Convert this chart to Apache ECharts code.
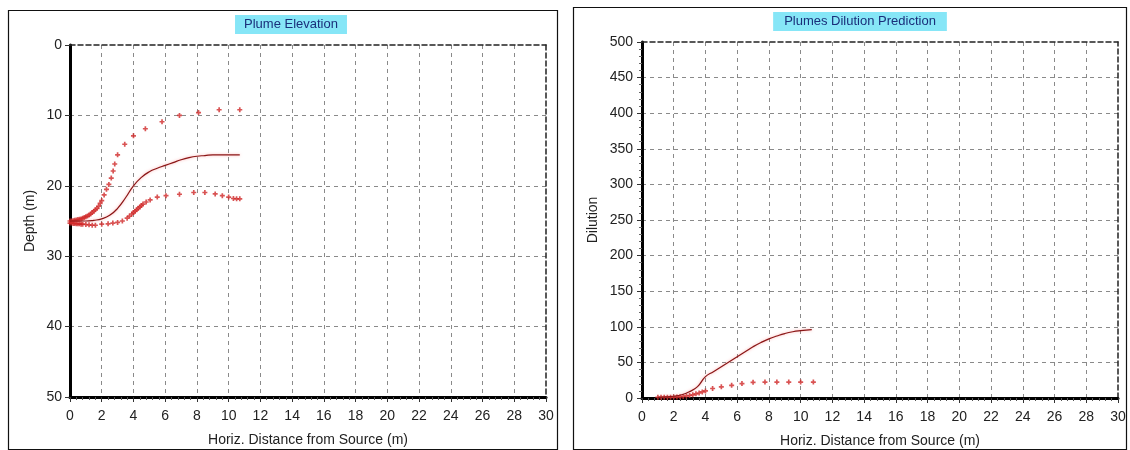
<!DOCTYPE html>
<html>
<head>
<meta charset="utf-8">
<script src="https://cdn.jsdelivr.net/npm/echarts@6/dist/echarts.min.js"></script>
<style>
html,body{margin:0;padding:0;background:#fff;}
#c{width:1130px;height:450px;}
</style>
</head>
<body>
<div id="c"></div>
<script>
// ---- Plume Elevation (left) ----
const elevUpperX = [0.0,0.1,0.2,0.3,0.4,0.5,0.6,0.7,0.8,0.9,1.0,1.1,1.2,1.3,1.4,1.5,1.6,1.7,1.8,1.9,2.0,2.15,2.3,2.45,2.6,2.72,2.82,3.0,3.45,4.0,4.75,5.8,6.9,8.1,9.4,10.7];
const elevUpperDepth = [25.0,25.0,24.95,24.9,24.85,24.8,24.75,24.7,24.6,24.5,24.4,24.3,24.15,24.0,23.8,23.6,23.4,23.2,22.9,22.5,22.1,21.3,20.5,19.8,18.9,17.9,16.9,15.6,14.1,12.9,11.9,10.9,10.0,9.6,9.2,9.2];
const elevCenterX = [0,1,1.5,2,2.5,3,3.5,4,4.5,5,5.5,6,6.5,7,7.5,8,8.5,9,10,10.7];
const elevCenterDepth = [25.0,25.0,24.9,24.7,24.2,23.2,21.7,20.0,18.8,18.0,17.5,17.1,16.7,16.3,16.0,15.8,15.7,15.6,15.6,15.6];
const elevLowerX = [0.0,0.1,0.2,0.3,0.4,0.5,0.6,0.7,0.8,1.0,1.2,1.4,1.6,2.0,2.4,2.7,3.0,3.3,3.6,3.75,3.9,4.0,4.1,4.2,4.3,4.4,4.5,4.6,4.8,5.05,5.5,6.05,6.9,7.8,8.5,9.15,9.6,10.0,10.3,10.5,10.7];
const elevLowerDepth = [25.3,25.3,25.35,25.35,25.4,25.4,25.4,25.45,25.45,25.5,25.55,25.6,25.6,25.45,25.4,25.3,25.2,25.0,24.6,24.3,24.0,23.8,23.6,23.4,23.2,23.0,22.8,22.6,22.3,22.0,21.6,21.4,21.2,20.95,20.95,21.15,21.4,21.6,21.8,21.85,21.85];

// ---- Plumes Dilution Prediction (right) ----
const dilCenterX = [1.0,1.5,2.0,2.5,3.0,3.5,4.0,4.5,5.0,5.5,6.0,6.5,7.0,7.5,8.0,8.5,9.0,9.5,10.0,10.7];
const dilCenterVal = [1,1.5,2.5,4.5,9,16,30,37,44,51,58,65,72,78,83,87,90.5,93,94.5,96];
const dilPointsX = [1.0,1.2,1.4,1.6,1.8,2.0,2.2,2.4,2.6,2.8,3.0,3.2,3.4,3.6,3.8,4.0,4.45,5.0,5.65,6.3,7.0,7.75,8.5,9.25,10.0,10.8];
const dilPointsVal = [1,1,1,1.1,1.2,1.3,1.5,1.8,2.2,2.8,3.5,4.5,5.8,7,8.5,10,13.3,15.7,17.8,20.3,22,22.4,22.4,22.4,22.4,22.4];

const xTickMin = 0, xTickMax = 30, xTickStep = 2;

function zip(a, b) { return a.map((v, i) => [v, b[i]]); }

const FONT = 'Liberation Sans';
const plusSym = 'path://M2,0H4V2H6V4H4V6H2V4H0V2H2Z';
const lineColor = '#8a1616';
const markColor = '#d02828';

function xAxisMain(gi) {
  return {
    type: 'value', gridIndex: gi, min: xTickMin, max: xTickMax, interval: xTickStep,
    name: 'Horiz. Distance from Source (m)', nameLocation: 'middle', nameGap: 36,
    nameTextStyle: {fontFamily: FONT, fontSize: 14, color: '#222'},
    axisLine: {show: true, onZero: false, lineStyle: {color: '#000', width: 3}},
    axisTick: {show: true, length: 5, lineStyle: {color: '#333', width: 1}},
    minorTick: {show: true, splitNumber: 5, length: 3, lineStyle: {color: '#555', width: 1}},
    axisLabel: {fontFamily: FONT, fontSize: 14, color: '#222', margin: 12},
    splitLine: {show: true, showMinLine: false, showMaxLine: false, lineStyle: {color: '#8a8a8a', type: [4, 4], width: 1}}
  };
}
function xAxisTop(gi) {
  return {
    type: 'value', gridIndex: gi, position: 'top', min: xTickMin, max: xTickMax,
    axisLine: {show: true, onZero: false, lineStyle: {color: '#222', type: [5, 3], width: 1.5}},
    axisTick: {show: false}, axisLabel: {show: false}, splitLine: {show: false}
  };
}
function yAxisRight(gi, min, max, inverse) {
  return {
    type: 'value', gridIndex: gi, position: 'right', min: min, max: max, inverse: inverse,
    axisLine: {show: true, onZero: false, lineStyle: {color: '#222', type: [5, 3], width: 1.5}},
    axisTick: {show: false}, axisLabel: {show: false}, splitLine: {show: false}
  };
}

const option = {
  animation: false,
  backgroundColor: '#ffffff',
  graphic: [
    {type: 'rect', shape: {x: 8.5, y: 10.5, width: 549, height: 439}, style: {fill: 'none', stroke: '#111', lineWidth: 1.2}, z: 100},
    {type: 'rect', shape: {x: 573.5, y: 7.5, width: 553, height: 442}, style: {fill: 'none', stroke: '#111', lineWidth: 1.2}, z: 100}
  ],
  title: [
    {text: 'Plume Elevation', left: 282, top: 15, textAlign: 'center',
     backgroundColor: '#86e6f7', padding: [3, 9, 3, 9],
     textStyle: {fontFamily: FONT, fontSize: 13, fontWeight: 'normal', color: '#1a2f7a'}},
    {text: 'Plumes Dilution Prediction', left: 849, top: 12, textAlign: 'center',
     backgroundColor: '#86e6f7', padding: [3, 11, 3, 11],
     textStyle: {fontFamily: FONT, fontSize: 13, fontWeight: 'normal', color: '#1a2f7a'}}
  ],
  grid: [
    {left: 70, top: 45, width: 476, height: 352, outerBoundsMode: 'none', containLabel: false},
    {left: 642, top: 42, width: 476, height: 356, outerBoundsMode: 'none', containLabel: false}
  ],
  xAxis: [xAxisMain(0), xAxisMain(1), xAxisTop(0), xAxisTop(1)],
  yAxis: [
    {type: 'value', gridIndex: 0, min: 0, max: 50, interval: 10, inverse: true,
     name: 'Depth (m)', nameLocation: 'middle', nameGap: 33, nameRotate: 90,
     nameTextStyle: {fontFamily: FONT, fontSize: 14, color: '#222'},
     axisLine: {show: true, onZero: false, lineStyle: {color: '#000', width: 3}},
     axisTick: {show: true, length: 5, lineStyle: {color: '#333'}},
     axisLabel: {fontFamily: FONT, fontSize: 14, color: '#222', margin: 8},
     splitLine: {show: true, showMinLine: false, showMaxLine: false, lineStyle: {color: '#8a8a8a', type: [4, 4], width: 1}}},
    {type: 'value', gridIndex: 1, min: 0, max: 500, interval: 50,
     name: 'Dilution', nameLocation: 'middle', nameGap: 42, nameRotate: 90,
     nameTextStyle: {fontFamily: FONT, fontSize: 14, color: '#222'},
     axisLine: {show: true, onZero: false, lineStyle: {color: '#000', width: 3}},
     axisTick: {show: true, length: 5, lineStyle: {color: '#333'}},
     minorTick: {show: true, splitNumber: 5, length: 3, lineStyle: {color: '#666'}},
     axisLabel: {fontFamily: FONT, fontSize: 14, color: '#222', margin: 9},
     splitLine: {show: true, showMinLine: false, showMaxLine: false, lineStyle: {color: '#8a8a8a', type: [4, 4], width: 1}}},
    yAxisRight(0, 0, 50, true),
    yAxisRight(1, 0, 500, false)
  ],
  series: [
    {type: 'scatter', xAxisIndex: 0, yAxisIndex: 0, data: zip(elevUpperX, elevUpperDepth),
     symbol: plusSym, symbolSize: 5, itemStyle: {color: markColor}},
    {type: 'line', xAxisIndex: 0, yAxisIndex: 0, data: zip(elevCenterX, elevCenterDepth),
     smooth: true, showSymbol: false, symbol: 'none',
     lineStyle: {color: lineColor, width: 1.2, shadowColor: 'rgba(255,110,110,0.6)', shadowBlur: 3}},
    {type: 'scatter', xAxisIndex: 0, yAxisIndex: 0, data: zip(elevLowerX, elevLowerDepth),
     symbol: plusSym, symbolSize: 5, itemStyle: {color: markColor}},
    {type: 'line', xAxisIndex: 1, yAxisIndex: 1, data: zip(dilCenterX, dilCenterVal),
     smooth: true, showSymbol: false, symbol: 'none',
     lineStyle: {color: lineColor, width: 1.2, shadowColor: 'rgba(255,110,110,0.6)', shadowBlur: 3}},
    {type: 'scatter', xAxisIndex: 1, yAxisIndex: 1, data: zip(dilPointsX, dilPointsVal),
     symbol: plusSym, symbolSize: 5, itemStyle: {color: markColor}}
  ]
};

const chart = echarts.init(document.getElementById('c'), null, {renderer: 'canvas'});
chart.setOption(option);
</script>
</body>
</html>
